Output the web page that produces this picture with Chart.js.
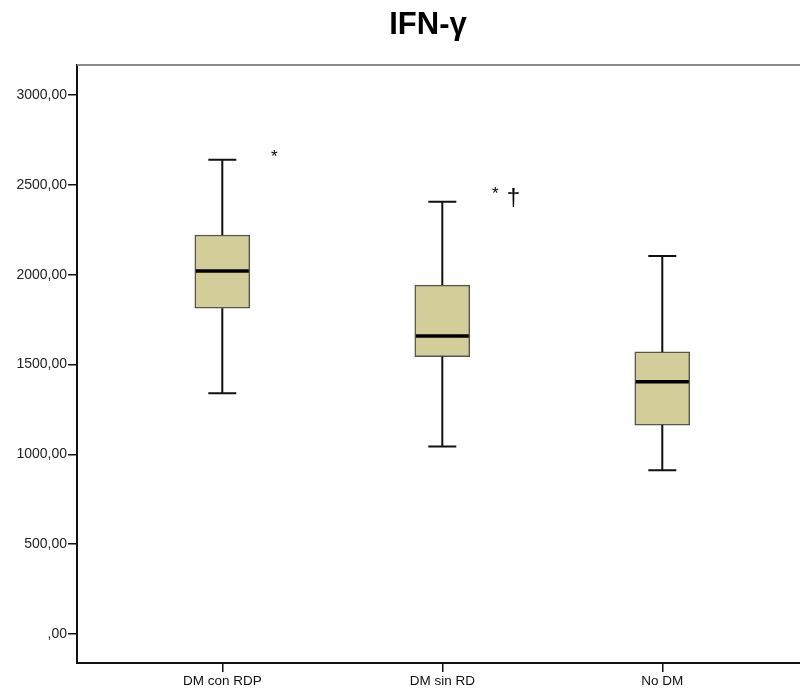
<!DOCTYPE html>
<html>
<head>
<meta charset="utf-8">
<script src="https://cdn.jsdelivr.net/npm/chart.js@4/dist/chart.umd.min.js"></script>
<style>
  html, body { margin: 0; padding: 0; background: #fff; overflow: hidden; }
  #wrap { width: 800px; height: 693px; }
</style>
</head>
<body>
<div id="wrap"><canvas id="c" width="800" height="693"></canvas></div>
<script>
// IFN-γ by group: box-plot five-number summaries
const titleText = 'IFN-γ';
const categories = ['DM con RDP', 'DM sin RD', 'No DM'];
const whiskerLow  = [1340, 1043, 911];
const q1          = [1813, 1544, 1163];
const median      = [2020, 1659, 1404];
const q3          = [2221, 1942, 1570];
const whiskerHigh = [2640, 2406, 2104];
const yTicks = [0, 500, 1000, 1500, 2000, 2500, 3000];

// significance marks: [x position, y value, symbol, font size]
const markX    = [1.236, 2.241, 2.323];
const markY    = [2655, 2450, 2425];
const markText = ['*', '*', '†'];
const markSize = [17, 17, 24];

const FONT = "Arial, 'Liberation Sans', sans-serif";

const boxData = categories.map((c, i) => ({ x: i + 1, y: [q1[i], q3[i]] }));

const boxPlugin = {
  id: 'boxParts',
  afterDatasetsDraw(chart) {
    const { ctx, scales: { x, y }, chartArea } = chart;
    ctx.save();
    const capHalf = 14, boxHalf = 27.5;
    categories.forEach((c, i) => {
      const cx = x.getPixelForValue(i + 1);
      const yLo = y.getPixelForValue(whiskerLow[i]);
      const yQ1 = y.getPixelForValue(q1[i]);
      const yQ3 = y.getPixelForValue(q3[i]);
      const yHi = y.getPixelForValue(whiskerHigh[i]);
      const yMed = y.getPixelForValue(median[i]);
      ctx.strokeStyle = '#111';
      ctx.lineWidth = 2;
      ctx.beginPath();
      ctx.moveTo(cx, yQ3); ctx.lineTo(cx, yHi);
      ctx.moveTo(cx - capHalf, yHi); ctx.lineTo(cx + capHalf, yHi);
      ctx.moveTo(cx, yQ1); ctx.lineTo(cx, yLo);
      ctx.moveTo(cx - capHalf, yLo); ctx.lineTo(cx + capHalf, yLo);
      ctx.stroke();
      ctx.lineWidth = 3.5;
      ctx.strokeStyle = '#000';
      ctx.beginPath();
      ctx.moveTo(cx - boxHalf + 1, yMed); ctx.lineTo(cx + boxHalf - 1, yMed);
      ctx.stroke();
    });
    // significance symbols
    ctx.fillStyle = '#000';
    ctx.textAlign = 'center';
    ctx.textBaseline = 'middle';
    markText.forEach((t, i) => {
      ctx.font = markSize[i] + 'px ' + FONT;
      ctx.fillText(t, x.getPixelForValue(markX[i]), y.getPixelForValue(markY[i]));
    });
    // upper frame line
    ctx.strokeStyle = '#8a8a8a';
    ctx.lineWidth = 2;
    ctx.beginPath();
    ctx.moveTo(chartArea.left, chartArea.top);
    ctx.lineTo(chartArea.right, chartArea.top);
    ctx.stroke();
    // chart title
    ctx.font = 'bold 31px ' + FONT;
    ctx.textAlign = 'center';
    ctx.textBaseline = 'middle';
    ctx.fillStyle = '#000';
    ctx.fillText(titleText, 428, 25);
    ctx.restore();
  }
};

new Chart(document.getElementById('c'), {
  type: 'bar',
  data: {
    datasets: [{
      data: boxData,
      backgroundColor: '#d3ce99',
      borderColor: '#55554c',
      borderWidth: 1.5,
      borderSkipped: false,
      barThickness: 55
    }]
  },
  options: {
    responsive: false,
    animation: false,
    devicePixelRatio: 1,
    layout: { padding: { top: 65, left: 0, right: 0, bottom: 0 } },
    plugins: {
      legend: { display: false },
      tooltip: { enabled: false },
      title: { display: false }
    },
    scales: {
      x: {
        type: 'linear',
        offset: false,
        min: 0.3395,
        max: 3.626,
        afterBuildTicks(scale) { scale.ticks = categories.map((c, i) => ({ value: i + 1 })); },
        afterFit(scale) { scale.height = 30; },
        ticks: {
          autoSkip: false,
          maxRotation: 0,
          padding: 1,
          color: '#111',
          font: { family: FONT, size: 13.5 },
          callback: (v) => categories[v - 1] ?? ''
        },
        grid: { offset: false, drawOnChartArea: false, drawTicks: true, tickLength: 9, color: '#111', lineWidth: 1.5 },
        border: { display: true, color: '#111', width: 2 }
      },
      y: {
        type: 'linear',
        min: -161.4,
        max: 3167,
        afterBuildTicks(scale) { scale.ticks = yTicks.map(v => ({ value: v })); },
        afterFit(scale) { scale.width = 77; },
        ticks: {
          padding: 1,
          color: '#222',
          font: { family: FONT, size: 14 },
          callback: (v) => v === 0 ? ',00' : v.toFixed(2).replace('.', ',')
        },
        grid: { drawOnChartArea: false, drawTicks: true, tickLength: 9, color: '#111', lineWidth: 1.5 },
        border: { display: true, color: '#111', width: 2 }
      }
    }
  },
  plugins: [boxPlugin]
});
</script>
</body>
</html>
